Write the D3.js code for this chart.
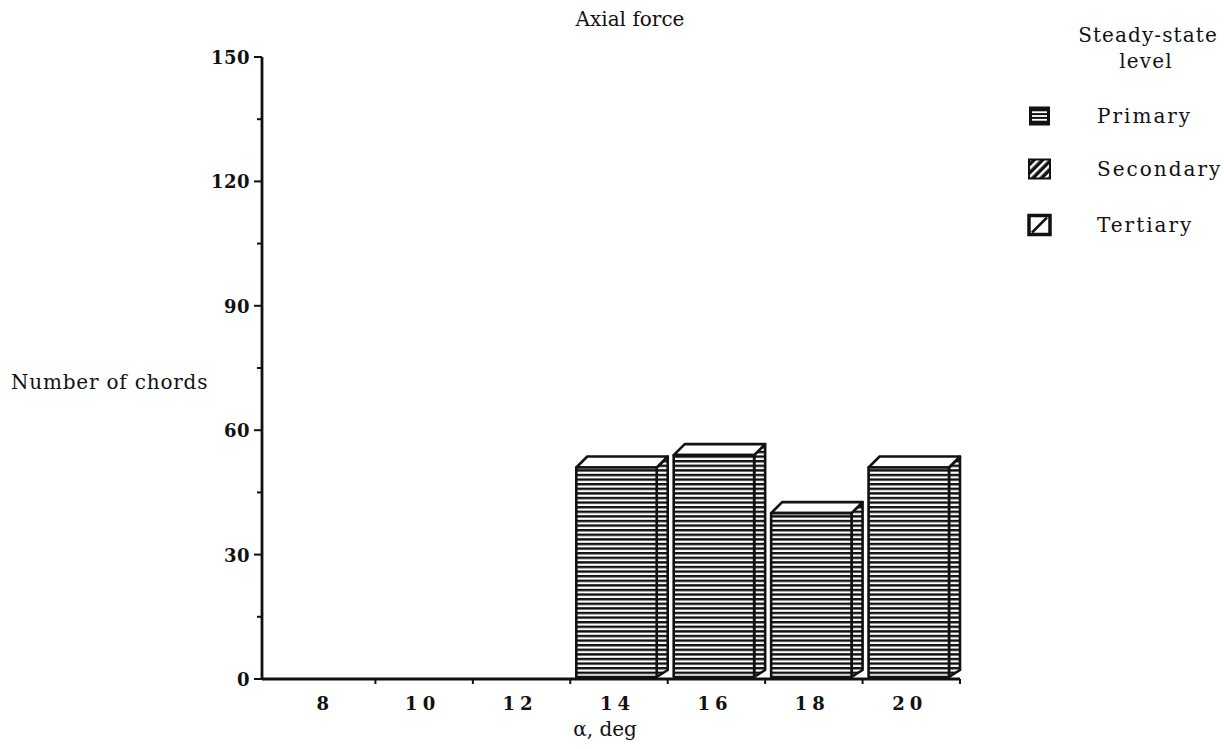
<!DOCTYPE html>
<html>
<head>
<meta charset="utf-8">
<script src="https://cdn.jsdelivr.net/npm/d3@7"></script>
<style>
  body { margin: 0; background: #fff; }
  text { font-family: "DejaVu Serif", serif; fill: #111; }
</style>
</head>
<body>
<svg id="chart" width="1224" height="749"></svg>
<script>
// data
const angles = ["8", "10", "12", "14", "16", "18", "20"];
const primary = [0, 0, 0, 51, 54, 40, 51];
const secondary = [0, 0, 0, 0, 0, 0, 0];
const tertiary = [0, 0, 0, 0, 0, 0, 0];
const yTicks = [0, 30, 60, 90, 120, 150];
const levels = ["Primary", "Secondary", "Tertiary"];

const svg = d3.select("#chart");

const x = d3.scaleBand().domain(angles).range([278, 960]).padding(0);
const y = d3.scaleLinear().domain([0, 150]).range([679, 57]);
const axisX = 262;
const depth = 11;

// patterns
const defs = svg.append("defs");
const hp = defs.append("pattern")
  .attr("id", "hstripe")
  .attr("patternUnits", "userSpaceOnUse")
  .attr("width", 10).attr("height", 4.6);
hp.append("rect").attr("width", 10).attr("height", 4.6).attr("fill", "#fff");
hp.append("rect").attr("y", 0).attr("width", 10).attr("height", 2.4).attr("fill", "#111");

const dp = defs.append("pattern")
  .attr("id", "dstripe")
  .attr("patternUnits", "userSpaceOnUse")
  .attr("width", 6).attr("height", 6)
  .attr("patternTransform", "rotate(45)");
dp.append("rect").attr("width", 6).attr("height", 6).attr("fill", "#111");
dp.append("rect").attr("width", 2.5).attr("height", 6).attr("fill", "#fff");

// bars (only primary has values)
const bars = angles.map((a, i) => ({ a, v: primary[i] })).filter(d => d.v > 0);
const barG = svg.append("g");
bars.forEach(d => {
  const x0 = x(d.a) + 6;
  const w = x.bandwidth() - 6 - depth;
  const yt = y(d.v);
  const yb = y(0) - 2;
  const g = barG.append("g")
    .attr("stroke", "#111").attr("stroke-width", 2.6).attr("stroke-linejoin", "round");
  // side face
  g.append("path")
    .attr("d", `M${x0 + w},${yt} L${x0 + w + depth},${yt - depth} L${x0 + w + depth},${yb - depth + 4} L${x0 + w},${yb} Z`)
    .attr("fill", "url(#hstripe)");
  // top face
  g.append("path")
    .attr("d", `M${x0},${yt} L${x0 + depth},${yt - depth} L${x0 + w + depth},${yt - depth} L${x0 + w},${yt} Z`)
    .attr("fill", "#fff");
  // front face
  g.append("rect")
    .attr("x", x0).attr("y", yt)
    .attr("width", w).attr("height", yb - yt)
    .attr("fill", "url(#hstripe)");
});

// y axis
const yAxis = svg.append("g");
yAxis.append("line")
  .attr("x1", axisX).attr("x2", axisX)
  .attr("y1", y(150)).attr("y2", y(0))
  .attr("stroke", "#111").attr("stroke-width", 2.8);
d3.range(0, 151, 15).forEach(v => {
  const major = v % 30 === 0;
  yAxis.append("line")
    .attr("x1", axisX - (major ? 8 : 5)).attr("x2", axisX)
    .attr("y1", y(v)).attr("y2", y(v))
    .attr("stroke", "#111").attr("stroke-width", 2);
});
yAxis.selectAll("text.yt")
  .data(yTicks)
  .join("text")
  .attr("class", "yt")
  .attr("x", axisX - 12)
  .attr("y", d => y(d) + 7)
  .attr("text-anchor", "end")
  .attr("font-size", 18)
  .attr("font-weight", "bold")
  .attr("letter-spacing", 0.5)
  .text(d => d);

// x axis
const xAxis = svg.append("g");
xAxis.append("line")
  .attr("x1", axisX).attr("x2", 960)
  .attr("y1", y(0)).attr("y2", y(0))
  .attr("stroke", "#111").attr("stroke-width", 2.8);
angles.forEach(a => {
  const xe = x(a) + x.bandwidth();
  xAxis.append("line")
    .attr("x1", xe).attr("x2", xe)
    .attr("y1", y(0)).attr("y2", y(0) + 5)
    .attr("stroke", "#111").attr("stroke-width", 2);
});
xAxis.selectAll("text.xt")
  .data(angles)
  .join("text")
  .attr("class", "xt")
  .attr("x", d => x(d) + (x.bandwidth() - depth) / 2 + 4)
  .attr("y", 710)
  .attr("text-anchor", "middle")
  .attr("font-size", 18)
  .attr("font-weight", "bold")
  .attr("letter-spacing", 5)
  .text(d => d);

// titles
svg.append("text")
  .attr("x", 630).attr("y", 26)
  .attr("text-anchor", "middle")
  .attr("font-size", 20)
  .text("Axial force");
svg.append("text")
  .attr("x", 11).attr("y", 389)
  .attr("font-size", 20)
  .attr("letter-spacing", 0.8)
  .text("Number of chords");
svg.append("text")
  .attr("x", 605).attr("y", 736)
  .attr("text-anchor", "middle")
  .attr("font-size", 20)
  .text("\u03b1, deg");

// legend
const lg = svg.append("g");
lg.append("text").attr("x", 1148).attr("y", 42)
  .attr("text-anchor", "middle").attr("font-size", 20)
  .attr("letter-spacing", 1.1).text("Steady-state");
lg.append("text").attr("x", 1146).attr("y", 68)
  .attr("text-anchor", "middle").attr("font-size", 20)
  .attr("letter-spacing", 1.1).text("level");

const ly = [116, 169, 225];
levels.forEach((name, i) => {
  const cy = ly[i];
  const sx = 1029, sw = 21, sh = 19;
  const g = lg.append("g");
  if (i === 0) {
    g.append("rect").attr("x", sx).attr("y", cy - sh / 2).attr("width", sw).attr("height", sh).attr("fill", "#111");
    [0.3, 0.5, 0.7].forEach(f => {
      g.append("line")
        .attr("x1", sx + 3).attr("x2", sx + sw - 3)
        .attr("y1", cy - sh / 2 + sh * f).attr("y2", cy - sh / 2 + sh * f)
        .attr("stroke", "#fff").attr("stroke-width", 1.8);
    });
  } else if (i === 1) {
    g.append("rect").attr("x", sx).attr("y", cy - sh / 2).attr("width", sw).attr("height", sh)
      .attr("fill", "url(#dstripe)").attr("stroke", "#111").attr("stroke-width", 2);
  } else {
    g.append("rect").attr("x", sx).attr("y", cy - sh / 2).attr("width", sw).attr("height", sh)
      .attr("fill", "#fff").attr("stroke", "#111").attr("stroke-width", 3.5);
    g.append("line")
      .attr("x1", sx + 3).attr("y1", cy + sh / 2 - 2)
      .attr("x2", sx + sw - 3).attr("y2", cy - sh / 2 + 2)
      .attr("stroke", "#111").attr("stroke-width", 2.5);
  }
  g.append("text")
    .attr("x", 1097).attr("y", cy + 7)
    .attr("font-size", 20)
    .attr("letter-spacing", 2)
    .text(name);
});
</script>
</body>
</html>
